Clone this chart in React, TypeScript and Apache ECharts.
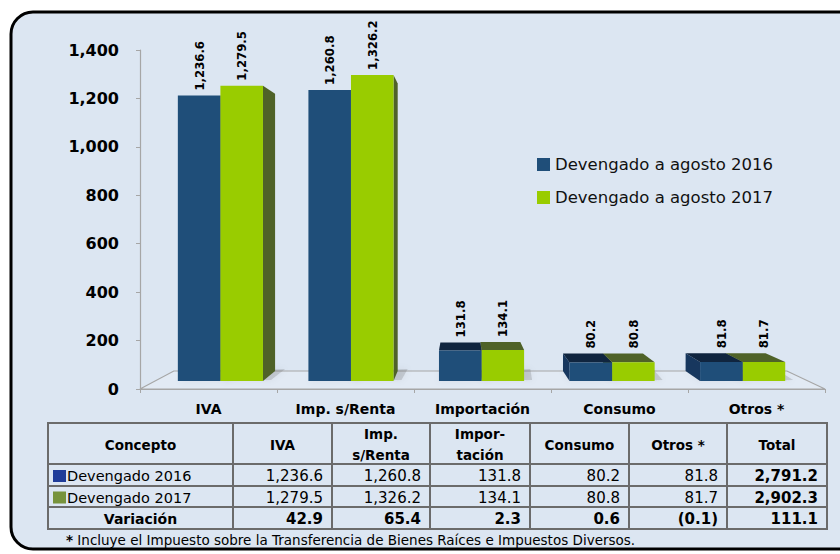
import React, { useEffect, useRef } from 'react';
import * as echarts from 'echarts';

const categories = ['IVA', 'Imp. s/Renta', 'Importación', 'Consumo', 'Otros *'];
const seriesNames = ['Devengado a agosto 2016', 'Devengado a agosto 2017'];
const dev2016 = [1236.6, 1260.8, 131.8, 80.2, 81.8];
const dev2017 = [1279.5, 1326.2, 134.1, 80.8, 81.7];
const total2016 = 2791.2;
const total2017 = 2902.3;
const variacion = [42.9, 65.4, 2.3, 0.6, -0.1];
const totalVariacion = 111.1;
const yMin = 0;
const yMax = 1400;
const yInterval = 200;
const tableHeaders = ['Concepto', 'IVA', 'Imp.\ns/Renta', 'Impor-\ntación', 'Consumo', 'Otros *', 'Total'];
const rowLabels = ['Devengado 2016', 'Devengado 2017', 'Variación'];
const footnoteMark = '*';
const footnote = ' Incluye el Impuesto sobre la Transferencia de Bienes Raíces e Impuestos Diversos.';

const FONT = "'DejaVu Sans', sans-serif";
const LABEL_FONT = "'DejaVu Sans Condensed', 'DejaVu Sans', sans-serif";

const COLORS = [
  { front: '#1f4e79', side: '#17375e', top: '#10253f' },
  { front: '#99cc00', side: '#4f6228', top: '#4f6228' },
];

const fmtAbs = (v: number) =>
  v.toLocaleString('en-US', { minimumFractionDigits: 1, maximumFractionDigits: 1 });
const fmt = (v: number) => (v < 0 ? `(${fmtAbs(-v)})` : fmtAbs(v));

const K_FRONT = 0.047;
const K_BACK = 0.105;
const VP_FX = 0.47;
const VP_FY = 0.494;

function vanishing(cs: any) {
  return [cs.x + cs.width * VP_FX, cs.y + cs.height * VP_FY];
}

function makeBarSeries(idx: number, name: string, values: number[]) {
  const col = COLORS[idx];
  return {
    type: 'custom',
    name,
    coordinateSystem: 'cartesian2d',
    data: values.map((v, i) => [i, v]),
    encode: { x: 0, y: 1 },
    itemStyle: { color: col.front },
    z: 3,
    renderItem: (params: any, api: any) => {
      const cat = api.value(0);
      const val = api.value(1);
      const cs = params.coordSys;
      const vp = vanishing(cs);
      const band = api.size([1, 0])[0];
      const base = api.coord([cat, 0]);
      const topY = api.coord([cat, val])[1];
      const half = band * 0.326;
      const x0 = idx === 0 ? base[0] - half : base[0];
      const x1 = idx === 0 ? base[0] : base[0] + half;
      const proj = (x: number, y: number, k: number) => [x + (vp[0] - x) * k, y + (vp[1] - y) * k];
      const fTL = proj(x0, topY, K_FRONT);
      const fTR = proj(x1, topY, K_FRONT);
      const fBR = proj(x1, base[1], K_FRONT);
      const fBL = proj(x0, base[1], K_FRONT);
      const bTL = proj(x0, topY, K_BACK);
      const bTR = proj(x1, topY, K_BACK);
      const bBR = proj(x1, base[1], K_BACK);
      const bBL = proj(x0, base[1], K_BACK);
      const groupLeft = base[0] < vp[0];
      const far = groupLeft ? idx === 0 : idx === 1;
      const zb = far ? 10 : 20;
      const children: any[] = [];
      children.push({
        type: 'polygon',
        shape: { points: [fBL, [fBR[0] + 8, fBR[1] - 1], [bBR[0] + 10, bBR[1] - 2], bBL] },
        style: { fill: 'rgba(90,90,90,0.22)', shadowBlur: 6, shadowColor: 'rgba(0,0,0,0.25)' },
        z2: 1,
      });
      if (fTR[0] < vp[0]) {
        children.push({
          type: 'polygon',
          shape: { points: [fTR, bTR, bBR, fBR] },
          style: { fill: col.side },
          z2: zb,
        });
      }
      if (fTL[0] > vp[0]) {
        children.push({
          type: 'polygon',
          shape: { points: [fTL, bTL, bBL, fBL] },
          style: { fill: col.side },
          z2: zb,
        });
      }
      if (fTL[1] > vp[1]) {
        children.push({
          type: 'polygon',
          shape: { points: [fTL, fTR, bTR, bTL] },
          style: { fill: col.top },
          z2: zb,
        });
      }
      children.push({
        type: 'polygon',
        shape: { points: [fTL, fTR, fBR, fBL] },
        style: { fill: col.front },
        z2: zb + 1,
      });
      const ly = Math.min(fTL[1], bTL[1], fTR[1], bTR[1]) - 5;
      children.push({
        type: 'text',
        x: (fTL[0] + fTR[0]) / 2,
        y: ly,
        rotation: Math.PI / 2,
        style: {
          text: fmt(val),
          fill: '#000',
          font: `bold 13px ${LABEL_FONT}`,
          align: 'left',
          verticalAlign: 'middle',
        },
        z2: 40,
      });
      return { type: 'group', children };
    },
  };
}

const floorSeries = {
  type: 'custom',
  name: 'floor',
  coordinateSystem: 'cartesian2d',
  data: [[0, 0]],
  encode: { x: 0, y: 1 },
  silent: true,
  z: 2,
  renderItem: (params: any) => {
    const cs = params.coordSys;
    const vp = vanishing(cs);
    const proj = (x: number, y: number, k: number) => [x + (vp[0] - x) * k, y + (vp[1] - y) * k];
    const FL = [cs.x, cs.y + cs.height];
    const FR = [cs.x + cs.width, cs.y + cs.height];
    const BL = proj(FL[0], FL[1], K_BACK);
    const BR = proj(FR[0], FR[1], K_BACK);
    return {
      type: 'polygon',
      shape: { points: [FL, FR, BR, BL] },
      style: { fill: '#e2eaf4', stroke: '#a6a6a6', lineWidth: 1.2 },
      z2: 0,
    };
  },
};

function buildTable() {
  const colX = [48, 233, 332, 430, 530, 629, 727, 827];
  const rowY = [423, 464, 486, 507, 529];
  const els: any[] = [];
  rowY.forEach((y) => {
    els.push({
      type: 'line',
      shape: { x1: colX[0] - 1, y1: y, x2: colX[colX.length - 1] + 1, y2: y },
      style: { stroke: '#6b6b6b', lineWidth: 2 },
    });
  });
  colX.forEach((x) => {
    els.push({
      type: 'line',
      shape: { x1: x, y1: rowY[0], x2: x, y2: rowY[rowY.length - 1] },
      style: { stroke: '#6b6b6b', lineWidth: 2 },
    });
  });
  tableHeaders.forEach((h, i) => {
    els.push({
      type: 'text',
      x: (colX[i] + colX[i + 1]) / 2,
      y: (rowY[0] + rowY[1]) / 2 + 1,
      style: {
        text: h,
        fill: '#000',
        font: `bold 13.5px ${FONT}`,
        lineHeight: 21,
        align: 'center',
        verticalAlign: 'middle',
      },
    });
  });
  const rows = [
    [...dev2016, total2016],
    [...dev2017, total2017],
    [...variacion, totalVariacion],
  ];
  const squares = ['#1f3c99', '#77933c'];
  rows.forEach((vals, r) => {
    const cy = (rowY[r + 1] + rowY[r + 2]) / 2 + 1;
    if (r < 2) {
      els.push({
        type: 'rect',
        shape: { x: 53, y: cy - 6, width: 13, height: 12 },
        style: { fill: squares[r] },
      });
      els.push({
        type: 'text',
        x: 67,
        y: cy,
        style: { text: rowLabels[r], fill: '#000', font: `14.5px ${FONT}`, align: 'left', verticalAlign: 'middle' },
      });
    } else {
      els.push({
        type: 'text',
        x: (colX[0] + colX[1]) / 2,
        y: cy,
        style: { text: rowLabels[r], fill: '#000', font: `bold 14px ${FONT}`, align: 'center', verticalAlign: 'middle' },
      });
    }
    vals.forEach((v, c) => {
      const bold = r === 2 || c === vals.length - 1;
      els.push({
        type: 'text',
        x: colX[c + 2] - 9,
        y: cy,
        style: {
          text: fmt(v),
          fill: '#000',
          font: `${bold ? 'bold ' : ''}15px ${FONT}`,
          align: 'right',
          verticalAlign: 'middle',
        },
      });
    });
  });
  els.push({
    type: 'text',
    x: 66,
    y: 540,
    style: {
      text: `{b|${footnoteMark}}${footnote}`,
      fill: '#000',
      font: `13.5px ${FONT}`,
      align: 'left',
      verticalAlign: 'middle',
      rich: { b: { fontWeight: 'bold', fontSize: 13.5, fontFamily: FONT, fill: '#000' } },
    },
  });
  return els;
}

export default function App() {
  const ref = useRef<HTMLDivElement>(null);
  useEffect(() => {
    if (!ref.current) return;
    const chart = echarts.init(ref.current, undefined, { renderer: 'svg' });
    const option: any = {
      animation: false,
      backgroundColor: '#ffffff',
      grid: { left: 140, top: 50, right: 15, bottom: 165, containLabel: false },
      legend: {
        data: seriesNames,
        orient: 'vertical',
        left: 532,
        top: 151,
        itemWidth: 13,
        itemHeight: 13,
        itemGap: 16,
        icon: 'rect',
        selectedMode: false,
        textStyle: { fontFamily: FONT, fontSize: 16.5, color: '#111' },
      },
      xAxis: {
        type: 'category',
        data: categories,
        boundaryGap: true,
        axisLine: { show: true, lineStyle: { color: '#a6a6a6', width: 1.2 } },
        axisTick: { show: true, length: 4, lineStyle: { color: '#a6a6a6' } },
        axisLabel: { fontFamily: FONT, fontWeight: 'bold', fontSize: 14, color: '#000', margin: 13 },
        splitLine: { show: false },
      },
      yAxis: {
        type: 'value',
        min: yMin,
        max: yMax,
        interval: yInterval,
        axisLine: { show: true, lineStyle: { color: '#a6a6a6', width: 1.2 } },
        axisTick: { show: true, length: 4, lineStyle: { color: '#a6a6a6' } },
        axisLabel: {
          fontFamily: FONT,
          fontWeight: 'bold',
          fontSize: 16,
          color: '#000',
          margin: 21,
          formatter: (v: number) => v.toLocaleString('en-US'),
        },
        splitLine: { show: false },
      },
      graphic: [
        {
          type: 'rect',
          z: -10,
          silent: true,
          shape: { x: 11, y: 12, width: 860, height: 537, r: 22 },
          style: { fill: '#dce6f2', stroke: '#000', lineWidth: 3 },
        },
        ...buildTable(),
      ],
      series: [floorSeries, makeBarSeries(0, seriesNames[0], dev2016), makeBarSeries(1, seriesNames[1], dev2017)],
    };
    chart.setOption(option);
    return () => chart.dispose();
  }, []);
  return <div ref={ref} style={{ position: 'fixed', left: 0, top: 0, width: 840, height: 554 }} />;
}
